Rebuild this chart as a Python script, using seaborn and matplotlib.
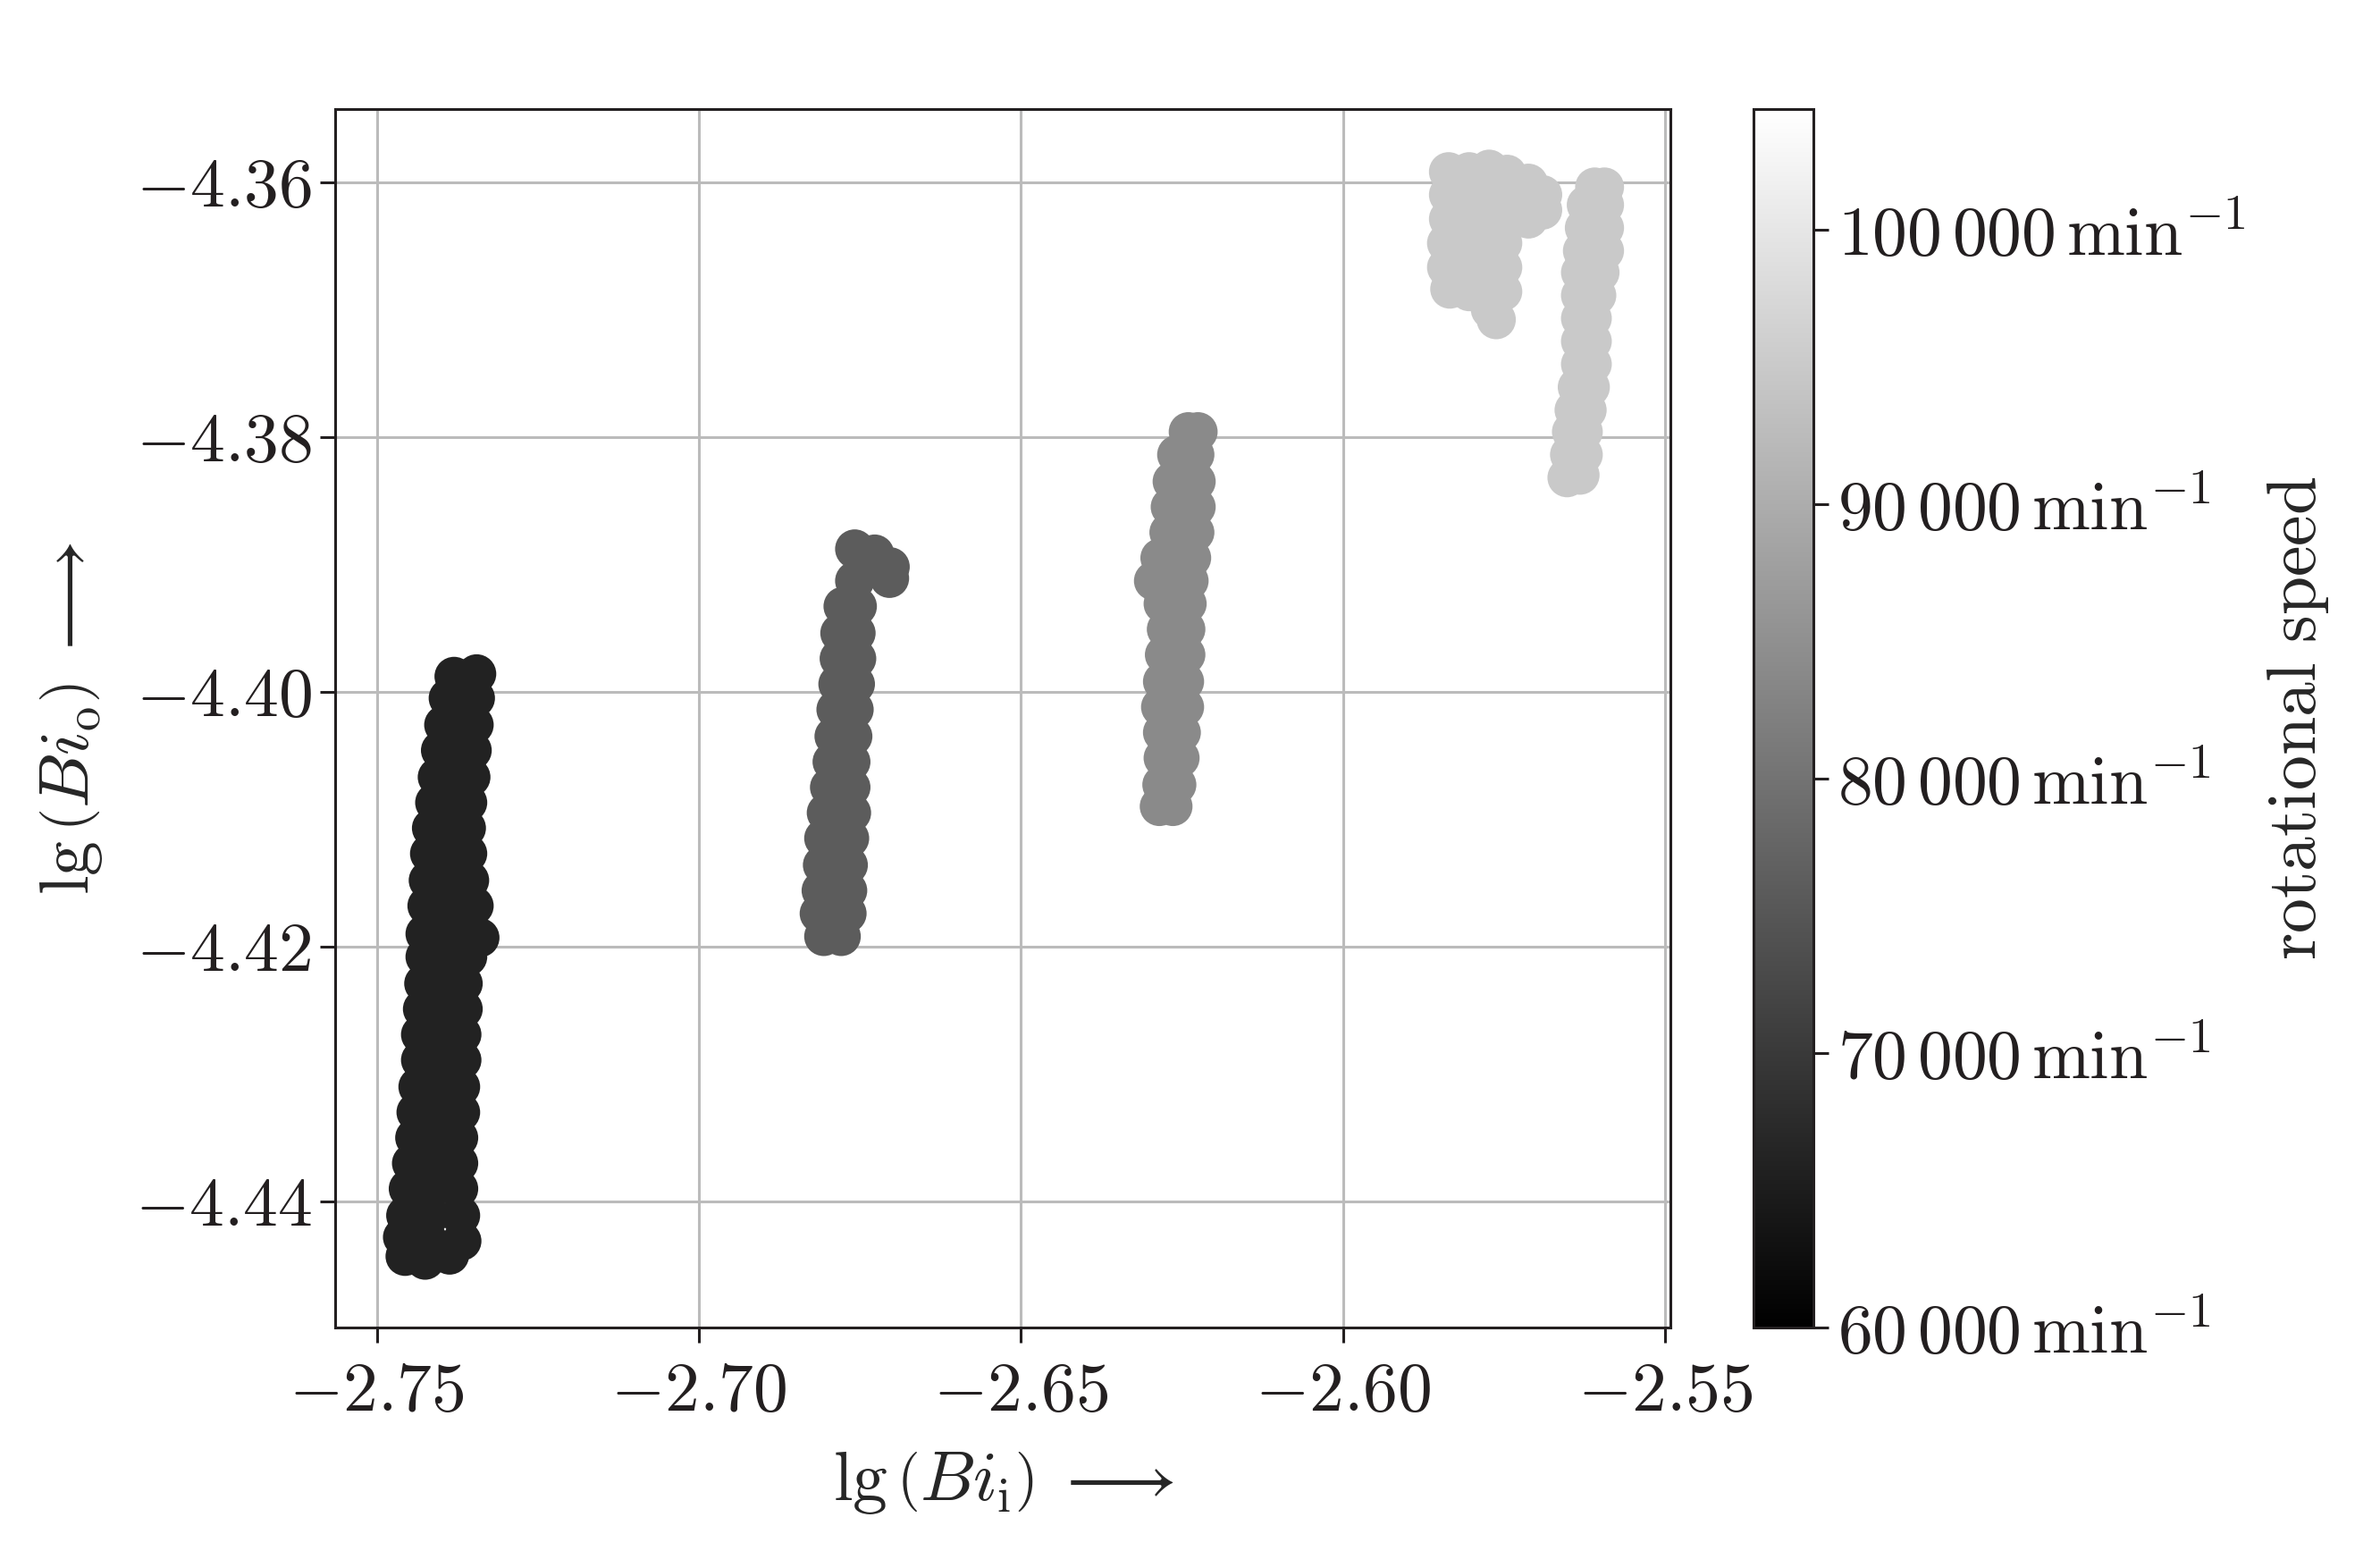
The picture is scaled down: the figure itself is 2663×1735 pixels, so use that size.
import matplotlib
matplotlib.use("Agg")
import matplotlib.pyplot as plt
import matplotlib.ticker as mticker
from matplotlib.cm import ScalarMappable
from matplotlib.colors import Normalize
import pandas as pd
import seaborn as sns

# lg(Bi_i), lg(Bi_o) operating points per rotational speed run
run_66k_x = [
    -2.7380, -2.7345,
    -2.7389, -2.7368, -2.7347,
    -2.7396, -2.7373, -2.7349,
    -2.7401, -2.7378, -2.7352,
    -2.7406, -2.7382, -2.7354,
    -2.7410, -2.7387, -2.7359,
    -2.7415, -2.7389, -2.7361,
    -2.7418, -2.7392, -2.7359,
    -2.7420, -2.7392, -2.7356,
    -2.7422, -2.7389, -2.7349,
    -2.7425, -2.7387, -2.7340,
    -2.7425, -2.7394, -2.7359,
    -2.7427, -2.7399, -2.7366,
    -2.7429, -2.7401, -2.7366,
    -2.7432, -2.7403, -2.7368,
    -2.7432, -2.7403, -2.7368,
    -2.7436, -2.7406, -2.7370,
    -2.7439, -2.7408, -2.7370,
    -2.7441, -2.7410, -2.7373,
    -2.7446, -2.7413, -2.7373,
    -2.7451, -2.7415, -2.7373,
    -2.7455, -2.7418, -2.7370,
    -2.7460, -2.7420, -2.7368,
    -2.7456, -2.7425, -2.7387,
]
run_66k_y = [
    -4.3988, -4.3986,
    -4.4005, -4.4005, -4.4005,
    -4.4026, -4.4026, -4.4026,
    -4.4046, -4.4046, -4.4046,
    -4.4067, -4.4067, -4.4067,
    -4.4087, -4.4087, -4.4087,
    -4.4107, -4.4107, -4.4107,
    -4.4127, -4.4127, -4.4127,
    -4.4148, -4.4148, -4.4148,
    -4.4168, -4.4168, -4.4168,
    -4.4190, -4.4188, -4.4193,
    -4.4208, -4.4208, -4.4208,
    -4.4229, -4.4229, -4.4229,
    -4.4249, -4.4249, -4.4249,
    -4.4269, -4.4269, -4.4269,
    -4.4289, -4.4289, -4.4289,
    -4.4310, -4.4310, -4.4310,
    -4.4330, -4.4330, -4.4330,
    -4.4350, -4.4350, -4.4350,
    -4.4370, -4.4370, -4.4370,
    -4.4390, -4.4390, -4.4390,
    -4.4411, -4.4411, -4.4411,
    -4.4428, -4.4431, -4.4431,
    -4.4443, -4.4446, -4.4442,
]

run_76k_x = [
    -2.6758, -2.6727, -2.6703, -2.6704, -2.6758,
    -2.6776, -2.6754,
    -2.6781, -2.6756,
    -2.6782, -2.6755,
    -2.6784, -2.6757,
    -2.6787, -2.6759,
    -2.6790, -2.6761,
    -2.6793, -2.6764,
    -2.6797, -2.6764,
    -2.6802, -2.6763,
    -2.6806, -2.6766,
    -2.6808, -2.6768,
    -2.6810, -2.6769,
    -2.6813, -2.6770,
    -2.6806, -2.6779,
]
run_76k_y = [
    -4.3888, -4.3892, -4.3902, -4.3911, -4.3913,
    -4.3933, -4.3933,
    -4.3954, -4.3954,
    -4.3974, -4.3974,
    -4.3994, -4.3994,
    -4.4014, -4.4014,
    -4.4035, -4.4035,
    -4.4055, -4.4055,
    -4.4075, -4.4075,
    -4.4095, -4.4095,
    -4.4115, -4.4115,
    -4.4136, -4.4136,
    -4.4156, -4.4156,
    -4.4174, -4.4174,
    -4.4192, -4.4192,
]

run_84k_x = [
    -2.6240, -2.6225,
    -2.6258, -2.6230,
    -2.6265, -2.6228,
    -2.6268, -2.6228,
    -2.6270, -2.6230,
    -2.6284, -2.6235,
    -2.6294, -2.6239,
    -2.6279, -2.6242,
    -2.6274, -2.6244,
    -2.6277, -2.6244,
    -2.6280, -2.6246,
    -2.6283, -2.6246,
    -2.6280, -2.6251,
    -2.6279, -2.6253,
    -2.6281, -2.6258,
    -2.6285, -2.6264,
]
run_84k_y = [
    -4.3796, -4.3796,
    -4.3814, -4.3814,
    -4.3835, -4.3835,
    -4.3855, -4.3855,
    -4.3875, -4.3875,
    -4.3895, -4.3895,
    -4.3913, -4.3913,
    -4.3931, -4.3931,
    -4.3951, -4.3951,
    -4.3971, -4.3971,
    -4.3992, -4.3992,
    -4.4012, -4.4012,
    -4.4032, -4.4032,
    -4.4052, -4.4052,
    -4.4073, -4.4073,
    -4.4090, -4.4090,
]

run_95k_a_x = [
    -2.5836, -2.5804, -2.5773, -2.5745,
    -2.5712, -2.5690,
    -2.5836, -2.5804, -2.5769, -2.5735,
    -2.5690,
    -2.5836, -2.5804, -2.5769, -2.5735, -2.5712,
    -2.5839, -2.5804, -2.5769, -2.5752,
    -2.5839, -2.5804, -2.5769, -2.5752,
    -2.5834, -2.5804, -2.5769, -2.5752,
    -2.5771, -2.5762,
]
run_95k_a_y = [
    -4.3592, -4.3592, -4.3590, -4.3594,
    -4.3601, -4.3610,
    -4.3610, -4.3610, -4.3610, -4.3610,
    -4.3622,
    -4.3629, -4.3629, -4.3629, -4.3629, -4.3629,
    -4.3648, -4.3648, -4.3648, -4.3648,
    -4.3667, -4.3667, -4.3667, -4.3667,
    -4.3684, -4.3686, -4.3686, -4.3686,
    -4.3700, -4.3708,
]

run_95k_b_x = [
    -2.5609, -2.5594,
    -2.5622, -2.5594,
    -2.5625, -2.5594,
    -2.5628, -2.5594,
    -2.5631, -2.5601,
    -2.5631, -2.5606,
    -2.5631, -2.5613,
    -2.5631, -2.5613,
    -2.5631, -2.5613,
    -2.5636, -2.5616,
    -2.5641, -2.5621,
    -2.5645, -2.5627,
    -2.5648, -2.5627,
    -2.5652, -2.5632,
]
run_95k_b_y = [
    -4.3604, -4.3604,
    -4.3618, -4.3618,
    -4.3636, -4.3636,
    -4.3654, -4.3654,
    -4.3671, -4.3671,
    -4.3689, -4.3689,
    -4.3707, -4.3707,
    -4.3725, -4.3725,
    -4.3743, -4.3743,
    -4.3761, -4.3761,
    -4.3779, -4.3779,
    -4.3796, -4.3796,
    -4.3814, -4.3814,
    -4.3832, -4.3830,
]

run_speeds = [66000, 76000, 84000, 95000, 95000]
speed_ticks = [60000, 70000, 80000, 90000, 100000]
x_ticks = [-2.75, -2.70, -2.65, -2.60, -2.55]
y_ticks = [-4.36, -4.38, -4.40, -4.42, -4.44]


def build_frame() -> pd.DataFrame:
    runs = [
        (run_66k_x, run_66k_y),
        (run_76k_x, run_76k_y),
        (run_84k_x, run_84k_y),
        (run_95k_a_x, run_95k_a_y),
        (run_95k_b_x, run_95k_b_y),
    ]
    frames = []
    for (xs, ys), speed in zip(runs, run_speeds):
        frames.append(pd.DataFrame({"bi_i": xs, "bi_o": ys, "speed": speed}))
    return pd.concat(frames, ignore_index=True)


df = build_frame()

sns.set_style("ticks", {"axes.grid": True, "grid.color": "#bbbbbb",
                        "axes.edgecolor": "#231f20"})
plt.rcParams["font.family"] = ["serif"]
plt.rcParams["font.serif"] = ["cmr10", "DejaVu Serif"]
plt.rcParams["mathtext.fontset"] = "cm"
FS = 28

fig = plt.figure(figsize=(2663 / 200, 1735 / 200), dpi=200)
ax = fig.add_axes([0.141, 0.144, 0.561, 0.7855])
cax = fig.add_axes([0.7366, 0.144, 0.0255, 0.7855])

norm = Normalize(vmin=60000, vmax=104400)
sns.scatterplot(data=df, x="bi_i", y="bi_o", hue="speed", palette="gray",
                hue_norm=norm, s=250, linewidth=0, legend=False, ax=ax)

ax.set_xlim(-2.7564, -2.5491)
ax.set_ylim(-4.4499, -4.3543)
ax.set_xticks(x_ticks)
ax.set_yticks(y_ticks)
ax.xaxis.set_major_formatter(mticker.FuncFormatter(lambda v, p: f"${v:.2f}$"))
ax.yaxis.set_major_formatter(mticker.FuncFormatter(lambda v, p: f"${v:.2f}$"))
ax.tick_params(labelsize=FS, length=6, width=1.1, colors="#231f20")
ax.tick_params(axis="x", pad=8)
ax.grid(True, color="#bbbbbb", linewidth=1.1)
for sp in ax.spines.values():
    sp.set_linewidth(1.1)
ax.set_xlabel(r"$\lg\left(Bi_{\mathrm{i}}\right)\;\longrightarrow$", fontsize=FS, labelpad=10)
ax.set_ylabel(r"$\lg\left(Bi_{\mathrm{o}}\right)\;\longrightarrow$", fontsize=FS, labelpad=12)

sm = ScalarMappable(norm=norm, cmap="gray")
cbar = fig.colorbar(sm, cax=cax, ticks=speed_ticks)
cbar.ax.yaxis.set_major_formatter(mticker.FuncFormatter(
    lambda v, p: r"$%d\,%03d\,\mathrm{min}^{-1}$" % (int(v) // 1000, int(v) % 1000)))
cbar.ax.tick_params(labelsize=FS, length=6, width=1.1, colors="#231f20")
cbar.outline.set_linewidth(1.1)
cbar.outline.set_edgecolor("#231f20")
cbar.set_label(r"$\mathrm{rotational\ speed}$", fontsize=FS, labelpad=8)

fig.savefig("out.png", dpi=200)
